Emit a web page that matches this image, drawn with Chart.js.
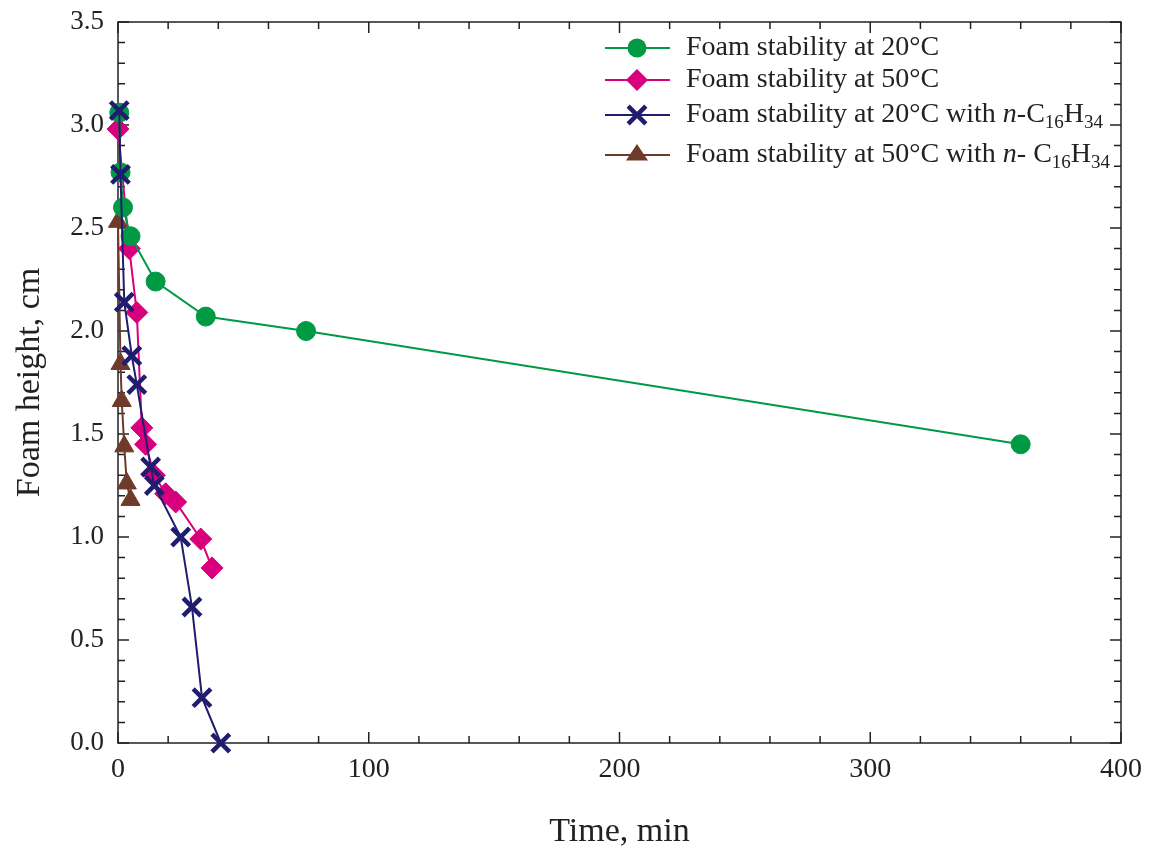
<!DOCTYPE html>
<html lang="en">
<head>
<meta charset="UTF-8">
<title>Foam stability</title>
<script src="https://cdn.jsdelivr.net/npm/chart.js"></script>
<style>
  html, body { margin: 0; padding: 0; background: #fff; }
</style>
</head>
<body>
<canvas id="foamChart" width="1150" height="855"></canvas>
<script>
// time (min) and foam height (cm)
const time20 = [0.5, 1, 2, 5, 15, 35, 75, 360];
const height20 = [3.06, 2.77, 2.60, 2.46, 2.24, 2.07, 2.00, 1.45];

const time50 = [0, 4.5, 7.5, 9.5, 11, 14.5, 19, 23, 33, 37.5];
const height50 = [2.98, 2.40, 2.09, 1.53, 1.45, 1.30, 1.21, 1.17, 0.99, 0.85];

const time20oil = [0.5, 1, 2.5, 5.5, 7.5, 13, 14.5, 25, 29.5, 33.5, 41];
const height20oil = [3.07, 2.76, 2.14, 1.88, 1.74, 1.34, 1.25, 1.00, 0.66, 0.22, 0];

const time50oil = [0, 1, 1.5, 2.5, 3.5, 5];
const height50oil = [2.53, 1.84, 1.66, 1.44, 1.26, 1.18];

// legend labels: [text, style] with '' normal, 'i' italic, 's' subscript
const labels = [
    [['Foam stability at 20°C', '']],
    [['Foam stability at 50°C', '']],
    [['Foam stability at 20°C with ', ''], ['n', 'i'], ['-C', ''], ['16', 's'], ['H', ''], ['34', 's']],
    [['Foam stability at 50°C with ', ''], ['n', 'i'], ['- C', ''], ['16', 's'], ['H', ''], ['34', 's']]
];

const colors = ['#009a44', '#d8007c', '#201c70', '#6e3a2a'];
const markers = ['circle', 'rectRot', 'crossRot', 'triangle'];
const sizes = [9.5, 11, 12.5, 11];

const FONT = '"Liberation Serif", "Times New Roman", serif';
const INK = '#222';

function pts(xs, ys) {
    return xs.map((t, i) => ({ x: t, y: ys[i] }));
}

const series = [
    pts(time20, height20),
    pts(time50, height50),
    pts(time20oil, height20oil),
    pts(time50oil, height50oil)
];

const datasets = series.map((d, i) => ({
    data: d,
    showLine: true,
    borderColor: colors[i],
    backgroundColor: colors[i],
    borderWidth: 2,
    pointStyle: markers[i],
    pointRadius: sizes[i],
    pointBorderWidth: markers[i] === 'crossRot' ? 4.5 : 1,
    pointBorderColor: colors[i],
    pointBackgroundColor: colors[i],
    clip: false,
    order: i === 2 ? 0 : i + 1
}));

// box around the plot with small inward ticks
const frameTicks = {
    id: 'frameTicks',
    beforeDatasetsDraw(chart) {
        const { ctx, chartArea: a, scales: { x, y } } = chart;
        ctx.save();
        ctx.strokeStyle = INK;
        ctx.lineWidth = 1.5;
        ctx.strokeRect(a.left, a.top, a.right - a.left, a.bottom - a.top);
        ctx.beginPath();
        for (let t = 0; t <= 400; t += 20) {
            const px = x.getPixelForValue(t);
            const len = t % 100 === 0 ? 11 : 7;
            ctx.moveTo(px, a.bottom); ctx.lineTo(px, a.bottom - len);
            ctx.moveTo(px, a.top); ctx.lineTo(px, a.top + len);
        }
        for (let i = 0; i <= 35; i++) {
            const py = y.getPixelForValue(i / 10);
            const len = i % 5 === 0 ? 11 : 7;
            ctx.moveTo(a.left, py); ctx.lineTo(a.left + len, py);
            ctx.moveTo(a.right, py); ctx.lineTo(a.right - len, py);
        }
        ctx.stroke();
        ctx.restore();
    }
};

function drawMarker(ctx, style, x, y, r, color) {
    ctx.fillStyle = color;
    ctx.strokeStyle = color;
    ctx.beginPath();
    if (style === 'circle') {
        ctx.arc(x, y, r, 0, Math.PI * 2);
        ctx.fill();
    } else if (style === 'rectRot') {
        ctx.moveTo(x, y - r); ctx.lineTo(x + r, y); ctx.lineTo(x, y + r); ctx.lineTo(x - r, y);
        ctx.closePath();
        ctx.fill();
    } else if (style === 'crossRot') {
        const d = r * Math.SQRT1_2;
        ctx.lineWidth = 4.5;
        ctx.moveTo(x - d, y - d); ctx.lineTo(x + d, y + d);
        ctx.moveTo(x + d, y - d); ctx.lineTo(x - d, y + d);
        ctx.stroke();
    } else {
        const h = r * 1.5;
        ctx.moveTo(x, y - h * 0.66); ctx.lineTo(x + r, y + h * 0.34); ctx.lineTo(x - r, y + h * 0.34);
        ctx.closePath();
        ctx.fill();
    }
}

// legend drawn by hand so the italic n and subscripts can be shown
const richLegend = {
    id: 'richLegend',
    afterDraw(chart) {
        const ctx = chart.ctx;
        const rows = [48, 80, 115, 155];
        ctx.save();
        ctx.textBaseline = 'middle';
        labels.forEach((parts, i) => {
            const y = rows[i];
            ctx.strokeStyle = colors[i];
            ctx.lineWidth = 2;
            ctx.beginPath();
            ctx.moveTo(605, y); ctx.lineTo(670, y);
            ctx.stroke();
            drawMarker(ctx, markers[i], 637, y, sizes[i], colors[i]);

            let x = 686;
            ctx.fillStyle = INK;
            parts.forEach(([txt, st]) => {
                if (st === 's') {
                    ctx.font = '19px ' + FONT;
                    ctx.fillText(txt, x, y + 8);
                } else {
                    ctx.font = (st === 'i' ? 'italic ' : '') + '28px ' + FONT;
                    ctx.fillText(txt, x, y);
                }
                x += ctx.measureText(txt).width;
            });
        });
        ctx.restore();
    }
};

new Chart(document.getElementById('foamChart'), {
    type: 'scatter',
    data: { datasets: datasets },
    options: {
        responsive: false,
        animation: false,
        layout: { padding: { top: 22, right: 29, left: 0, bottom: 0 } },
        plugins: {
            legend: { display: false },
            tooltip: { enabled: false }
        },
        scales: {
            x: {
                type: 'linear',
                min: 0,
                max: 400,
                afterFit: (s) => { s.height = 112; s.paddingLeft = 0; s.paddingRight = 0; },
                grid: { display: false, drawTicks: false },
                border: { display: false },
                ticks: {
                    stepSize: 100,
                    padding: 10,
                    color: INK,
                    font: { family: FONT, size: 28 }
                },
                title: {
                    display: true,
                    text: 'Time, min',
                    color: INK,
                    font: { family: FONT, size: 34 },
                    padding: { bottom: 3 }
                }
            },
            y: {
                min: 0,
                max: 3.5,
                afterFit: (s) => { s.width = 118; s.paddingTop = 0; s.paddingBottom = 0; },
                grid: { display: false, drawTicks: false },
                border: { display: false },
                ticks: {
                    stepSize: 0.5,
                    padding: 14,
                    color: INK,
                    font: { family: FONT, size: 27 },
                    callback: (v) => v.toFixed(1)
                },
                title: {
                    display: true,
                    text: 'Foam height, cm',
                    color: INK,
                    font: { family: FONT, size: 34 },
                    padding: { top: 10 }
                }
            }
        }
    },
    plugins: [frameTicks, richLegend]
});
</script>
</body>
</html>
